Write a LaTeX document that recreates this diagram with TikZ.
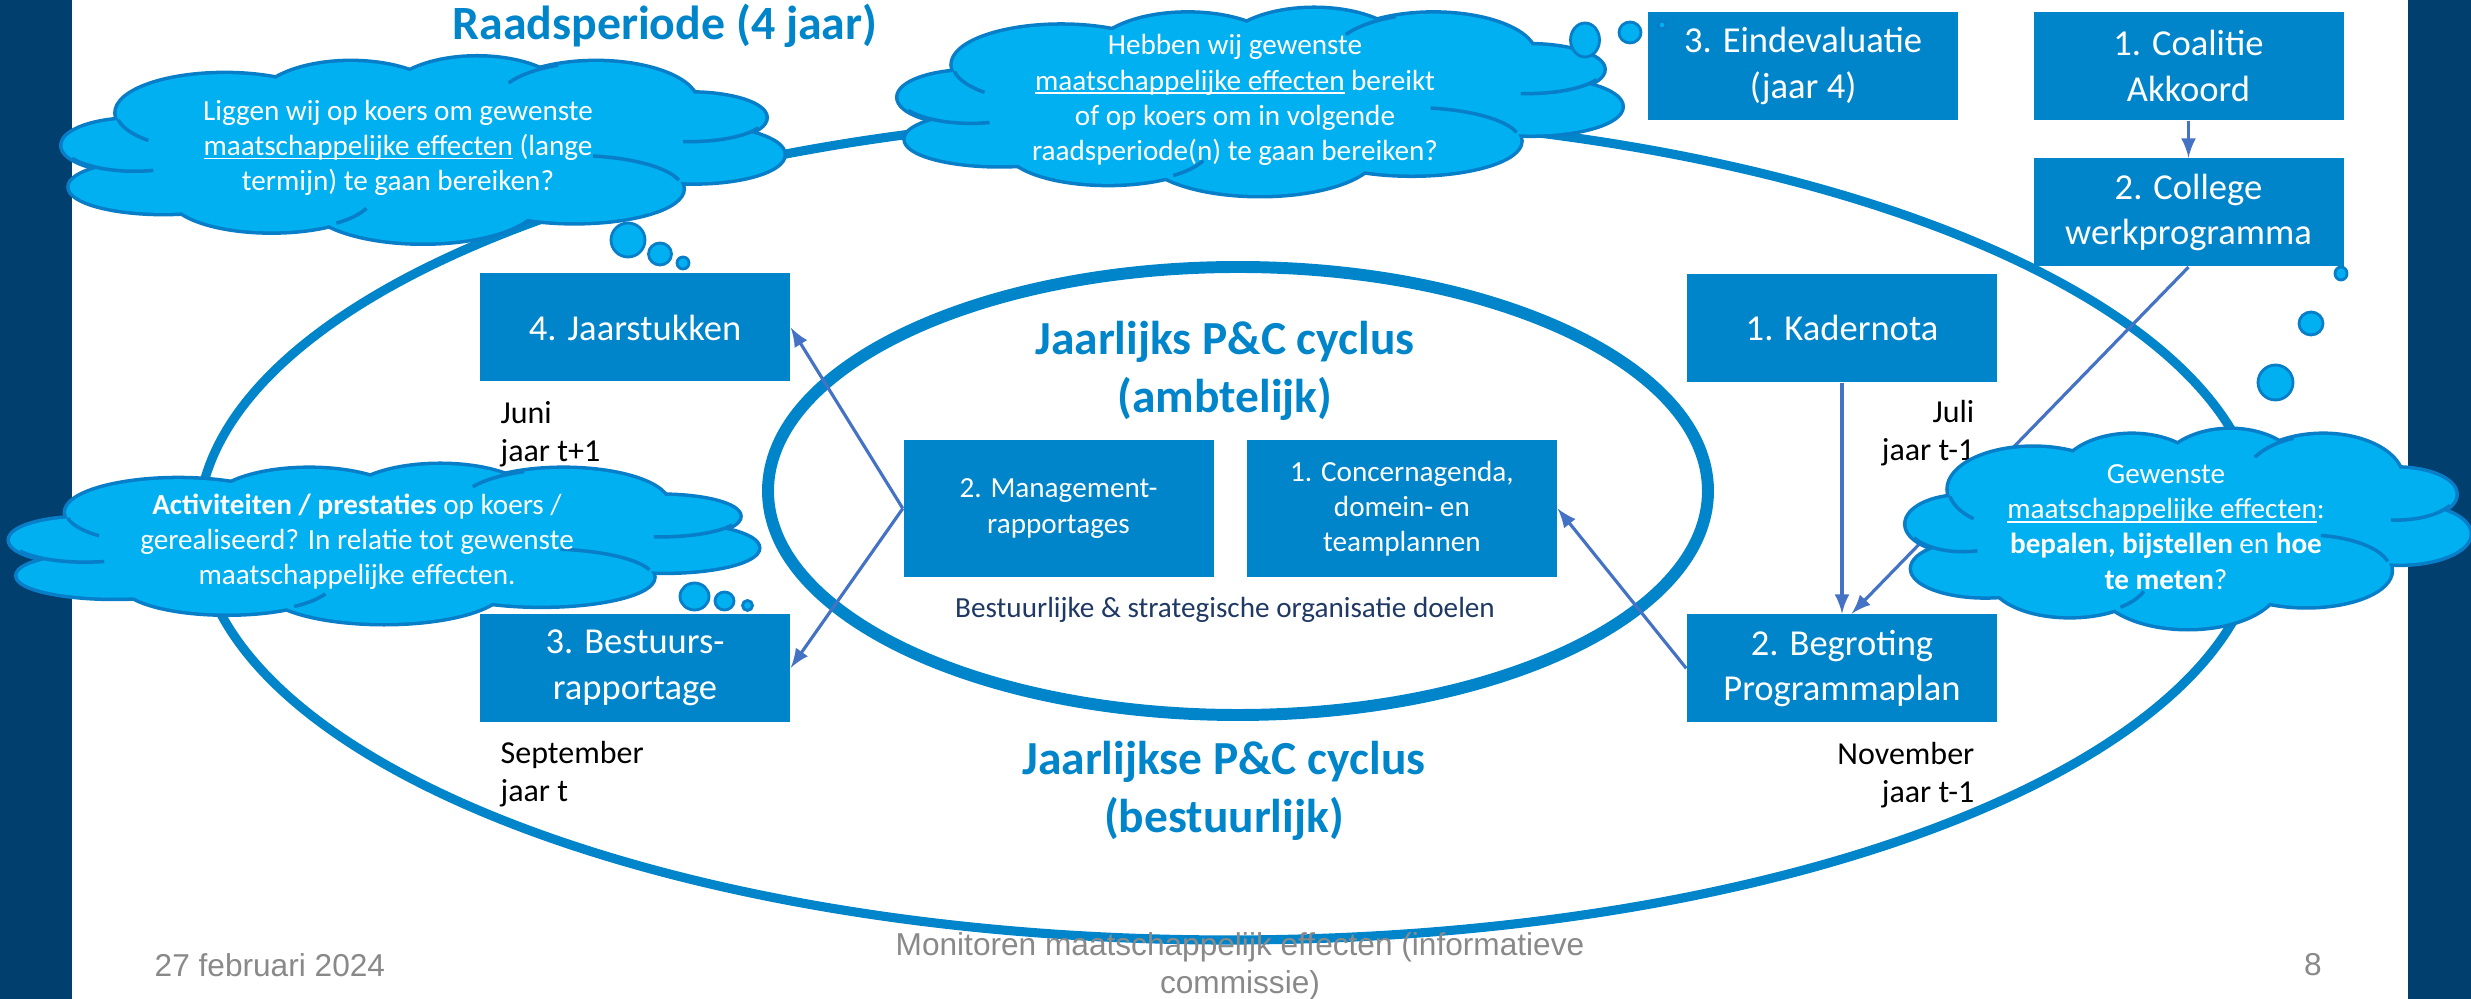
\documentclass[tikz,border=0pt]{standalone}
\usepackage{fontspec}
\setmainfont{Carlito}
\newfontfamily\voetfont{Liberation Sans}
\usetikzlibrary{positioning}

\definecolor{band}{RGB}{1,63,111}
\definecolor{vakblauw}{RGB}{0,133,202}
\definecolor{wolkblauw}{RGB}{0,176,240}
\definecolor{wolkrand}{RGB}{8,125,200}
\definecolor{pijlblauw}{RGB}{68,114,196}
\definecolor{donkerblauw}{RGB}{31,56,100}
\definecolor{voetgrijs}{RGB}{137,137,137}

% underline just below the baseline
\newcommand{\onderlijn}[1]{\setbox0\hbox{#1}\rlap{\rule[-1.1pt]{\wd0}{0.45pt}}\box0\relax}

% puffs of a cloud: centre u/v and radii, in half widths/heights
\newcommand{\wolkpuffen}{%
    -0.8/-0.05/0.2/0.28, -0.72/0.4/0.26/0.28, -0.42/0.5/0.28/0.38,
    0.0/0.55/0.32/0.45, 0.42/0.42/0.3/0.36, 0.75/0.05/0.25/0.3,
    0.74/-0.35/0.21/0.26, 0.48/-0.5/0.28/0.45, 0.15/-0.55/0.25/0.45,
    -0.2/-0.5/0.26/0.45, -0.55/-0.4/0.3/0.42}
% inner arcs of a cloud: puff centre, radii, start and end angle
\newcommand{\wolkbogen}{%
    -0.8/-0.05/0.2/0.28/150/75, 0.42/0.42/0.3/0.36/-80/-15,
    0.74/-0.35/0.21/0.26/95/25, -0.55/-0.4/0.3/0.42/170/135,
    -0.42/0.5/0.28/0.38/20/50, 0.48/-0.5/0.28/0.45/-150/-112}
% cloud: centre x, centre y, width, height (pixels)
\newcommand{\wolkvorm}[4]{%
    \begin{scope}[shift={(#1,#2)}, x=#3*0.05mm, y=-#4*0.05mm]
        \foreach \u/\v/\a/\b in \wolkpuffen
            \filldraw[draw=wolkrand, fill=wolkblauw, line width=2pt] (\u,\v) ellipse [x radius=\a, y radius=\b];
        \fill[wolkblauw] (0,0) ellipse [x radius=0.72, y radius=0.6];
        \foreach \u/\v/\a/\b in \wolkpuffen
            \fill[wolkblauw] (\u,\v) ellipse [x radius=\a, y radius=\b];
        \foreach \u/\v/\a/\b/\s/\e in \wolkbogen
            \draw[wolkrand, line width=1pt] ({\u+\a*cos(\s)},{\v+\b*sin(\s)})
                arc [start angle=\s, end angle=\e, x radius=\a, y radius=\b];
    \end{scope}}

\begin{document}
\begin{tikzpicture}[
    x=0.1mm, y=-0.1mm,
    % Define node styles
    vak/.style={
        rectangle,
        fill=vakblauw,
        text=white,
        minimum width=31mm,
        minimum height=10.8mm,
        align=center,
        inner sep=0pt,
        font=\fontsize{10.4}{13}\selectfont
    },
    kleinvak/.style={
        vak,
        minimum height=13.7mm,
        font=\fontsize{8.3}{10}\selectfont
    },
    wolktekst/.style={
        text=white,
        align=center,
        inner sep=0pt,
        font=\fontsize{8.3}{10}\selectfont
    },
    bel/.style={draw=wolkrand, line width=0.8pt, fill=wolkblauw},
    maand/.style={inner sep=0pt, font=\fontsize{9.1}{10.8}\selectfont},
    kop/.style={
        text=vakblauw,
        align=center,
        inner sep=0pt,
        font=\fontsize{13.5}{16.4}\selectfont\bfseries
    },
    ring/.style={draw=vakblauw},
    pijl/.style={draw=pijlblauw, line width=0.9pt, -latex},
    voet/.style={text=voetgrijs, inner sep=0pt, font=\voetfont\fontsize{9}{10.8}\selectfont}
]
    \useasboundingbox (0,0) rectangle (2471,999);
    % Side bands
    \fill[band] (0,0) rectangle (72,999);
    \fill[band] (2408,0) rectangle (2471,999);

    % Cycles
    \draw[ring, line width=2.6pt] (1229,527) ellipse [x radius=103.1mm, y radius=41.3mm];
    \draw[ring, line width=3.4pt] (1238,491) ellipse [x radius=47mm, y radius=22.4mm];

    % Title and cycle labels
    \node[kop, font=\fontsize{13.6}{16}\selectfont\bfseries] (titel) at (665,26) {Raadsperiode (4 jaar)};
    \node[kop] (ambtelijk) at (1225,371) {Jaarlijks P\&C cyclus\\(ambtelijk)};
    \node[kop] (bestuurlijk) at (1224,791) {Jaarlijkse P\&C cyclus\\(bestuurlijk)};

    % Council period boxes
    \node[vak] (coalitie) at (2188.5,66) {1. Coalitie\\Akkoord};
    \node[vak, below=3.7mm of coalitie] (college) {2. College\\werkprogramma};
    \node[vak, left=7.4mm of coalitie] (eind) {3. Eindevaluatie\\(jaar 4)};

    % Yearly cycle boxes
    \node[vak] (kader) at (1842,328) {1. Kadernota};
    \node[vak, below=23.1mm of kader] (begroting) {2. Begroting\\Programmaplan};
    \node[vak] (jaar) at (635,327.5) {4. Jaarstukken};
    \node[vak, below=23.1mm of jaar] (bestuur) {3. Bestuurs-\\rapportage};

    % Inner cycle boxes
    \node[kleinvak] (mgmt) at (1058.5,508.5) {2. Management-\\rapportages};
    \node[kleinvak, right=3.2mm of mgmt] (concern) {1. Concernagenda,\\domein- en\\teamplannen};
    \node[font=\fontsize{8.3}{10}\selectfont, text=donkerblauw, inner sep=0pt] (doelen) at (1225,610)
        {Bestuurlijke \& strategische organisatie doelen};

    % Months
    \node[maand, anchor=north west, align=left] (juni) at (500,401) {Juni\\jaar t+1};
    \node[maand, anchor=north west, align=left] (september) at (500,741) {September\\jaar t};
    \node[maand, anchor=north east, align=right] (juli) at (1975,400) {Juli\\jaar t-1};
    \node[maand, anchor=north east, align=right] (november) at (1975,742) {November\\jaar t-1};

    % Arrows
    \draw[pijl] (coalitie) -- (college);
    \draw[pijl] (kader) -- (begroting);
    \draw[pijl] (college.south) -- (begroting.80);
    \draw[pijl] (begroting.west) -- (concern.east);
    \draw[pijl] (mgmt.west) -- (jaar.east);
    \draw[pijl] (mgmt.west) -- (bestuur.east);

    % Clouds
    \wolkvorm{423}{150}{721}{185}
    \node[wolktekst] (vraag1) at (398,148) {Liggen wij op koers om gewenste\\
        \onderlijn{maatschappelijke effecten} (lange\\termijn) te gaan bereiken?};
    \wolkvorm{1260}{102}{723}{186}
    \node[wolktekst] (vraag2) at (1235,100) {Hebben wij gewenste\\
        \onderlijn{maatschappelijke effecten} bereikt\\of op koers om in volgende\\raadsperiode(n) te gaan bereiken?};
    \wolkvorm{384}{544}{748}{158}
    \node[wolktekst] (vraag3) at (357,542) {\textbf{Activiteiten / prestaties} op koers /\\
        gerealiseerd? In relatie tot gewenste\\maatschappelijke effecten.};
    \wolkvorm{2188}{529}{563}{198}
    \node[wolktekst] (vraag4) at (2166,527) {Gewenste\\\onderlijn{maatschappelijke effecten}:\\
        \textbf{bepalen, bijstellen} en \textbf{hoe}\\\textbf{te meten}?};

    % Thought bubbles
    \draw[bel] (628,240) ellipse [x radius=1.7mm, y radius=1.7mm];
    \draw[bel] (660,254) ellipse [x radius=1.15mm, y radius=1.1mm];
    \draw[bel] (683,263) ellipse [x radius=0.6mm, y radius=0.6mm];
    \draw[bel] (1585,40) ellipse [x radius=1.45mm, y radius=1.7mm];
    \draw[bel] (1630,32.5) ellipse [x radius=1.1mm, y radius=1.05mm];
    \draw[bel] (1662,25) ellipse [x radius=0.4mm, y radius=0.4mm];
    \draw[bel] (694.5,596.5) ellipse [x radius=1.45mm, y radius=1.35mm];
    \draw[bel] (724.5,601) ellipse [x radius=0.95mm, y radius=0.9mm];
    \draw[bel] (747.5,605.5) ellipse [x radius=0.5mm, y radius=0.5mm];
    \draw[bel] (2341,273.5) ellipse [x radius=0.6mm, y radius=0.65mm];
    \draw[bel] (2311,323.5) ellipse [x radius=1.2mm, y radius=1.15mm];
    \draw[bel] (2275.5,382.5) ellipse [x radius=1.75mm, y radius=1.75mm];

    % Footer
    \node[voet, anchor=west] (datum) at (154,965) {27 februari 2024};
    \node[voet, align=center] (onderwerp) at (1240,966) {Monitoren maatschappelijk effecten (informatieve\\commissie)};
    \node[voet] (pagina) at (2313,965) {8};
\end{tikzpicture}
\end{document}
